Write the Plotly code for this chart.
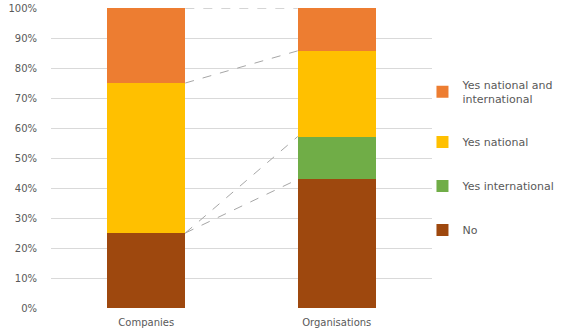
import plotly.graph_objects as go
import numpy as np

categories = ["Companies", "Organisations"]
series_names = ["No", "Yes international", "Yes national", "Yes national and<br>international"]
no_vals = [25.0, 42.86]
yes_int_vals = [0.0, 14.29]
yes_nat_vals = [50.0, 28.57]
yes_both_vals = [25.0, 14.29]
colors = ["#9E480E", "#70AD47", "#FFC000", "#ED7D31"]
y_ticks = [0, 10, 20, 30, 40, 50, 60, 70, 80, 90, 100]
y_tick_labels = [f"{v}%" for v in y_ticks]

all_vals = [no_vals, yes_int_vals, yes_nat_vals, yes_both_vals]
bar_width = 0.41

fig = go.Figure()
n = len(all_vals)
for i, (name, vals, col) in enumerate(zip(series_names, all_vals, colors)):
    fig.add_trace(go.Bar(
        x=list(range(len(categories))), y=vals, name=name,
        marker=dict(color=col, line=dict(width=0)),
        width=bar_width, legendgroup=f"g{i}", legendrank=n - i,
    ))

# series lines (connect tops of each series between bars)
cum = np.cumsum(np.array(all_vals), axis=0)
for i in range(n):
    fig.add_shape(type="line", xref="x", yref="y",
                  x0=0 + bar_width / 2, x1=1 - bar_width / 2,
                  y0=cum[i][0], y1=cum[i][1],
                  line=dict(color="#A6A6A6", width=1, dash="dash"), layer="above")

fig.update_layout(
    barmode="stack",
    width=575, height=328,
    margin=dict(l=51, r=143, t=8, b=20, autoexpand=False),
    paper_bgcolor="white", plot_bgcolor="white",
    font=dict(family="DejaVu Sans", size=10, color="#595959"),
    legend=dict(
        traceorder="grouped", x=0.975, xanchor="left", y=0.79, yanchor="top",
        font=dict(size=11, color="#595959"), tracegroupgap=25,
        itemwidth=30, bgcolor="rgba(0,0,0,0)",
    ),
    xaxis=dict(
        tickmode="array", tickvals=list(range(len(categories))), ticktext=categories,
        range=[-0.5, 1.5], showgrid=False, showline=False, ticks="",
        tickfont=dict(size=10, color="#595959"), automargin=False,
        ticklabelstandoff=7,
    ),
    yaxis=dict(
        range=[0, 100], tickvals=y_ticks, ticktext=y_tick_labels,
        showgrid=True, gridcolor="#D9D9D9", gridwidth=1, zeroline=False,
        showline=False, ticks="", ticklabelstandoff=13, automargin=False,
        tickfont=dict(size=10, color="#595959"),
    ),
    showlegend=True,
)

fig.write_html("out.html")
